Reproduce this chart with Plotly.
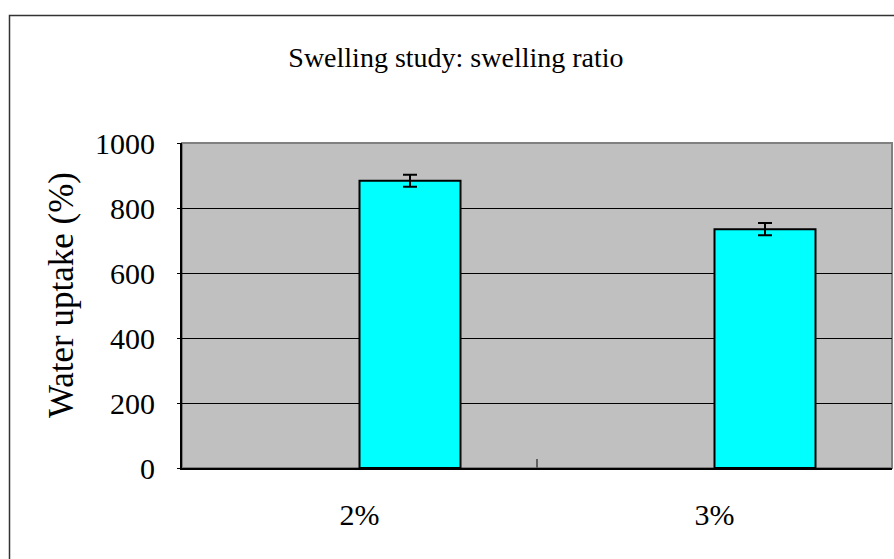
import plotly.graph_objects as go

categories = ["2%", "3%"]
water_uptake = [884, 735]
uptake_error = [18.5, 18.5]
y_ticks = [0, 200, 400, 600, 800, 1000]

FONT = "Liberation Serif"

fig = go.Figure()
fig.add_trace(go.Bar(
    x=categories,
    y=water_uptake,
    offset=0,
    width=0.2845,
    marker=dict(color="#00FFFF", line=dict(color="black", width=2)),
    error_y=dict(type="data", array=uptake_error, visible=True,
                 color="black", thickness=2, width=7),
    showlegend=False,
))

fig.update_layout(
    width=894, height=559,
    margin=dict(l=182, r=2, t=143, b=91),
    paper_bgcolor="white",
    plot_bgcolor="#C0C0C0",
    font=dict(family=FONT, color="black"),
    title=dict(text="Swelling study: swelling ratio", x=0.51, xref="container",
               xanchor="center", y=1 - 57 / 559, yref="container", yanchor="middle",
               font=dict(family=FONT, size=28, color="black")),
    xaxis=dict(
        type="category", range=[-0.5, 1.5],
        showline=True, linecolor="black", linewidth=2,
        ticks="inside", tickson="boundaries", ticklen=9, tickwidth=2, tickcolor="#606060",
        showgrid=False, tickfont=dict(family=FONT, size=30, color="black"),
        ticklabelstandoff=19,
    ),
    yaxis=dict(
        range=[0, 1000], tickvals=y_ticks,
        showline=True, linecolor="black", linewidth=2,
        ticks="outside", ticklen=3, tickcolor="black",
        showgrid=True, gridcolor="black", gridwidth=1,
        zeroline=False,
        tickfont=dict(family=FONT, size=30, color="black"),
        ticklabelstandoff=16,
    ),
    shapes=[
        dict(type="rect", xref="paper", yref="paper", x0=0, x1=1, y0=0, y1=1,
             line=dict(color="#808080", width=2), fillcolor="#C0C0C0", layer="below"),
        dict(type="rect", xref="paper", yref="paper",
             x0=(9.5 - 182) / 710, x1=1.2, y0=-0.5, y1=(468 - 15.5) / 325,
             line=dict(color="#333333", width=1.5), fillcolor="rgba(0,0,0,0)", layer="below"),
    ],
    annotations=[
        dict(text="Water uptake (%)", xref="paper", yref="paper",
             x=(61 - 182) / 710, y=(468 - 295) / 325, textangle=-90,
             showarrow=False, xanchor="center", yanchor="middle",
             font=dict(family=FONT, size=35, color="black")),
    ],
)

fig.write_html("out.html", config={"displayModeBar": False},
               post_script="document.body.style.margin='0';")
